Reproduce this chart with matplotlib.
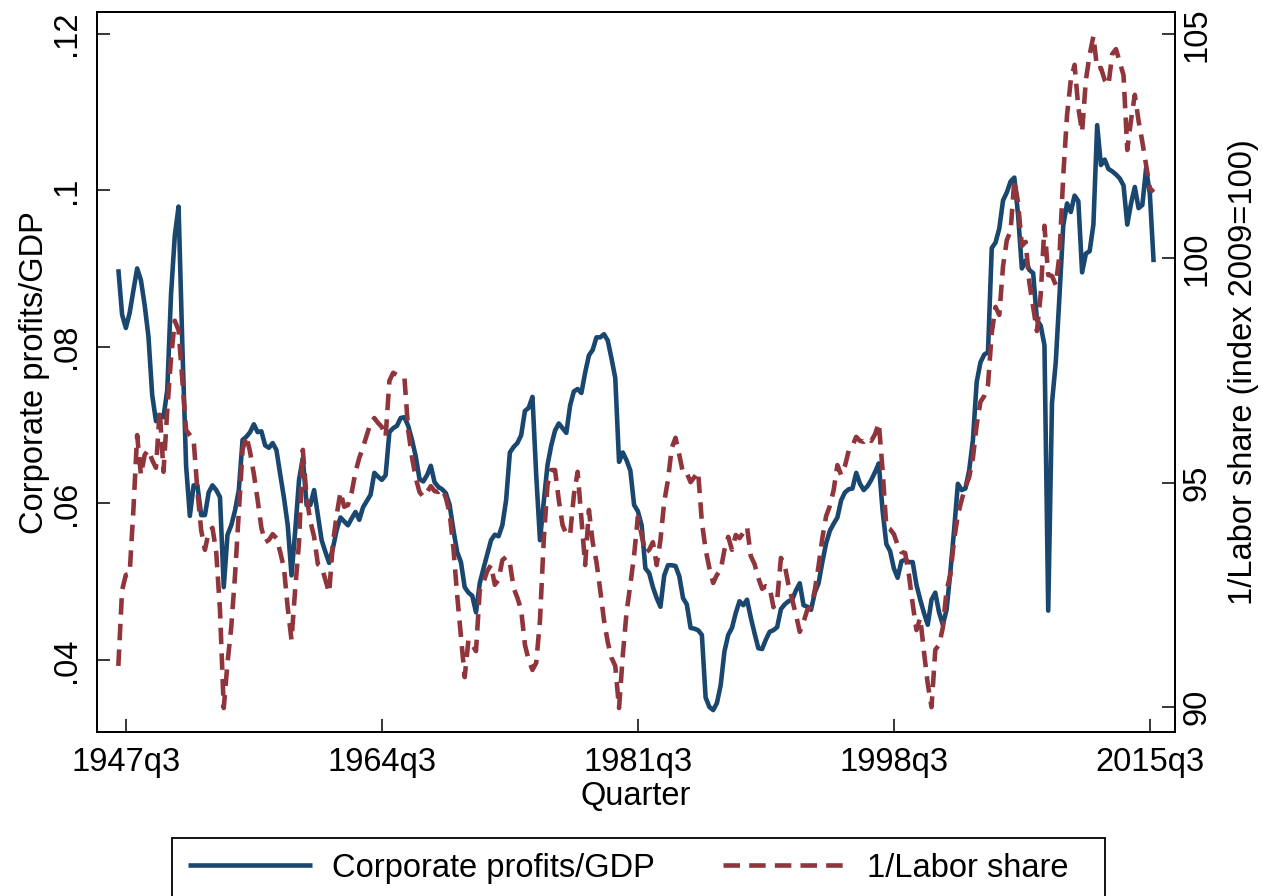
import numpy as np
import matplotlib
matplotlib.use('Agg')
import matplotlib.pyplot as plt
from matplotlib.patches import Rectangle

plt.rcParams['font.family'] = ['Liberation Sans', 'DejaVu Sans']

# quarterly data, 1947q1 onwards
first_year = 1947

profits_gdp = [
    .0899, .0841, .0824, .0843, .0872, .0900, .0885, .0853, .0813, .0738,
    .0705, .0713, .0710, .0745, .0867, .0942, .0979, .0802, .0648, .0584,
    .0623, .0623, .0585, .0585, .0614, .0623, .0617, .0608, .0493, .0560,
    .0572, .0591, .0617, .0681, .0685, .0691, .0701, .0691, .0692, .0674,
    .0671, .0677, .0668, .0637, .0607, .0572, .0508, .0566, .0630, .0658,
    .0598, .0598, .0617, .0585, .0553, .0538, .0524, .0543, .0566, .0582,
    .0577, .0572, .0581, .0589, .0579, .0595, .0603, .0611, .0639, .0634,
    .0630, .0636, .0691, .0696, .0699, .0709, .0710, .0699, .0681, .0660,
    .0631, .0628, .0636, .0648, .0627, .0621, .0618, .0613, .0598, .0566,
    .0538, .0525, .0493, .0486, .0482, .0461, .0498, .0517, .0535, .0553,
    .0560, .0558, .0572, .0604, .0665, .0672, .0677, .0687, .0718, .0722,
    .0736, .0636, .0553, .0602, .0649, .0674, .0693, .0702, .0696, .0690,
    .0725, .0743, .0746, .0741, .0767, .0789, .0796, .0812, .0812, .0816,
    .0808, .0785, .0760, .0653, .0665, .0655, .0642, .0598, .0590, .0572,
    .0517, .0511, .0493, .0479, .0468, .0508, .0521, .0521, .0520, .0507,
    .0479, .0471, .0441, .0440, .0438, .0432, .0352, .0340, .0336, .0345,
    .0368, .0411, .0432, .0441, .0460, .0475, .0470, .0477, .0454, .0434,
    .0415, .0414, .0426, .0436, .0438, .0442, .0465, .0471, .0475, .0477,
    .0489, .0498, .0470, .0468, .0464, .0486, .0498, .0525, .0549, .0565,
    .0574, .0582, .0604, .0614, .0618, .0619, .0639, .0625, .0617, .0622,
    .0630, .0640, .0651, .0591, .0548, .0539, .0517, .0505, .0526, .0528,
    .0525, .0525, .0496, .0477, .0460, .0445, .0477, .0486, .0461, .0445,
    .0464, .0512, .0566, .0625, .0617, .0619, .0642, .0681, .0755, .0780,
    .0790, .0793, .0926, .0933, .0951, .0987, .0997, .1011, .1016, .0968,
    .0900, .0910, .0898, .0894, .0834, .0827, .0802, .0463, .0728, .0780,
    .0866, .0955, .0983, .0972, .0993, .0986, .0895, .0919, .0922, .0956,
    .1083, .1032, .1039, .1027, .1024, .1020, .1015, .1006, .0956, .0983,
    .1004, .0977, .0981, .1028, .0995, .0908,
]

inv_labor_share = [
    90.91, 92.60, 92.94, 92.96, 94.39, 96.06, 95.17, 95.62, 95.73, 95.50,
    95.33, 96.62, 95.24, 96.62, 97.78, 98.61, 98.40, 97.29, 96.17, 96.06,
    95.95, 94.83, 93.94, 93.50, 93.90, 93.99, 93.45, 92.16, 89.97, 90.98,
    91.78, 92.94, 94.34, 95.73, 96.04, 95.68, 95.19, 94.61, 93.99, 93.67,
    93.72, 93.85, 93.76, 93.45, 93.09, 92.20, 91.49, 92.65, 93.67, 95.73,
    94.68, 94.14, 93.79, 93.18, 93.12, 92.83, 92.54, 93.65, 94.28, 94.79,
    94.46, 94.50, 94.79, 95.24, 95.55, 95.79, 96.06, 96.33, 96.44, 96.33,
    96.24, 96.02, 97.27, 97.45, 97.40, 97.38, 97.33, 96.17, 95.57, 95.10,
    94.79, 94.68, 94.79, 94.92, 94.81, 94.79, 94.86, 94.66, 94.32, 93.54,
    92.49, 91.58, 90.66, 91.49, 91.38, 91.24, 92.60, 92.78, 93.03, 93.16,
    92.72, 92.83, 93.27, 93.34, 93.21, 92.65, 92.43, 92.16, 91.38, 91.04,
    90.82, 90.98, 91.93, 93.72, 94.95, 95.28, 95.28, 94.61, 94.05, 93.85,
    93.83, 94.72, 95.24, 94.21, 93.16, 94.39, 93.67, 93.23, 92.60, 91.93,
    91.44, 91.09, 90.91, 89.97, 91.15, 92.11, 92.72, 93.38, 94.23, 93.83,
    93.43, 93.50, 93.67, 93.16, 93.72, 94.57, 95.06, 95.77, 96.00, 95.62,
    95.21, 95.21, 95.01, 95.12, 95.24, 94.12, 93.50, 93.09, 92.76, 92.94,
    93.05, 93.50, 93.79, 93.50, 93.83, 93.76, 93.88, 94.01, 93.36, 93.18,
    92.87, 92.63, 92.69, 92.67, 92.22, 92.38, 93.32, 93.16, 92.72, 92.38,
    92.05, 91.67, 91.89, 92.16, 92.22, 92.60, 93.14, 93.76, 94.25, 94.48,
    94.83, 95.39, 95.17, 95.37, 95.71, 95.82, 96.02, 95.93, 95.91, 96.00,
    95.93, 96.08, 96.33, 95.28, 94.01, 93.96, 93.85, 93.61, 93.45, 93.43,
    92.94, 92.29, 91.71, 91.98, 91.22, 90.51, 89.99, 91.27, 91.38, 91.76,
    92.60, 92.94, 93.72, 94.28, 94.61, 94.90, 95.12, 95.55, 96.29, 96.80,
    96.93, 97.18, 98.34, 98.92, 98.74, 99.83, 100.41, 100.61, 101.75, 101.24,
    100.28, 100.37, 99.45, 98.92, 98.38, 99.19, 100.73, 99.63, 99.61, 99.41,
    100.08, 101.86, 103.20, 103.98, 104.32, 103.36, 102.82, 103.98, 104.54, 104.96,
    104.23, 104.25, 103.98, 103.87, 104.56, 104.67, 104.38, 104.09, 102.42, 103.09,
    103.65, 103.07, 102.60, 102.09, 101.57, 101.48,
]

xtick_labels = ['1947q3', '1964q3', '1981q3', '1998q3', '2015q3']
left_ticks = [.04, .06, .08, .1, .12]
left_tick_labels = ['.04', '.06', '.08', '.1', '.12']
right_ticks = [90, 95, 100, 105]

blue = '#1a476f'
red = '#90353b'
fs = 23.5
lw = 3.3


def qindex(lab):
    return (int(lab[:4]) - first_year) * 4 + int(lab[-1]) - 1


t = np.arange(len(profits_gdp))
t2 = np.arange(len(inv_labor_share))

fig = plt.figure(figsize=(12.63, 8.96), dpi=100)
ax = fig.add_axes([0.0770, 0.1830, 0.8531, 0.8032])
ax2 = ax.twinx()

l1, = ax.plot(t, profits_gdp, color=blue, lw=lw, solid_capstyle='butt',
              solid_joinstyle='round', label='Corporate profits/GDP')
l2, = ax2.plot(t2, inv_labor_share, color=red, lw=lw, linestyle=(0, (3.6, 2.0)),
               dash_capstyle='butt', label='1/Labor share')

ax.set_xlim(-5.6, 280.6)
ax.set_ylim(0.0308, 0.1227)
ax2.set_ylim(89.435, 105.49)

ax.set_xticks([qindex(s) for s in xtick_labels])
ax.set_xticklabels(xtick_labels)
ax.set_yticks(left_ticks)
ax.set_yticklabels(left_tick_labels, rotation=90, va='center')
ax2.set_yticks(right_ticks)
ax2.set_yticklabels([str(v) for v in right_ticks], rotation=90, va='center')

for a in (ax, ax2):
    a.tick_params(direction='in', length=9.5, width=1.1, labelsize=fs, colors='black')
    for sp in a.spines.values():
        sp.set_linewidth(1.3)
        sp.set_color('black')
ax.tick_params(axis='y', pad=11)
ax.tick_params(axis='x', pad=11)
ax2.tick_params(axis='y', pad=5)

ax.set_xlabel('Quarter', fontsize=fs, labelpad=2)
ax.set_ylabel('Corporate profits/GDP', fontsize=fs, labelpad=1)
ax2.set_ylabel('1/Labor share (index 2009=100)', fontsize=fs, labelpad=11)

leg = fig.legend([l1, l2], [l1.get_label(), l2.get_label()], loc='upper center',
                 bbox_to_anchor=(0.4976, 0.0647), ncol=2, fontsize=fs,
                 frameon=False, handlelength=3.8, handletextpad=0.6,
                 columnspacing=2.1, borderpad=0.45, borderaxespad=0)

# legend box, runs off the bottom edge like the original export
fig.patches.append(Rectangle((172 / 1263, -0.02), 933 / 1263, 0.02 + 58 / 896,
                             transform=fig.transFigure, fill=False,
                             edgecolor='black', linewidth=1.3))

fig.savefig('out.png', dpi=100)
